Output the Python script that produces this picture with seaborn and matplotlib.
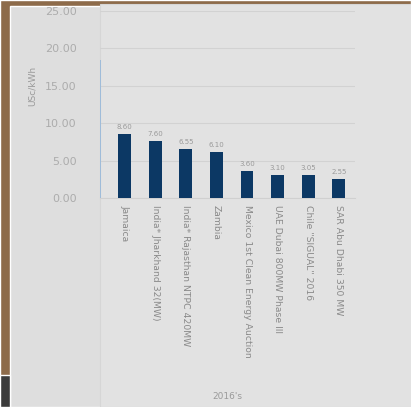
import numpy as np
import pandas as pd
import seaborn as sns
import matplotlib.pyplot as plt
from matplotlib.patches import Rectangle

sns.set_style("white")
plt.rcParams['font.family'] = ['DejaVu Sans']

# data (first bar is mostly hidden behind the panel edge)
projects = ["hidden", "Jamaica", "India* Jharkhand 32(MW)", "India* Rajasthan NTPC 420MW",
            "Zambia", "Mexico 1st Clean Energy Auction", "UAE Dubai 800MW Phase III",
            "Chile \"SIGUAL\" 2016", "SAR Abu Dhabi 350 MW"]
prices = [18.4, 8.6, 7.6, 6.55, 6.1, 3.6, 3.1, 3.05, 2.55]
bar_colors = ["#9fbcd9"] + ["#0c3864"] * 8
yticks = [0, 5, 10, 15, 20, 25]

df = pd.DataFrame({"project": projects, "price": prices})

fig = plt.figure(figsize=(4.11, 4.07), dpi=100)
fig.patch.set_facecolor("#dfdfdf")

# photo background around the screen
fig.patches.append(Rectangle((0, 0), 1, 1, transform=fig.transFigure,
                             facecolor="#8d6b4a", zorder=-10))
fig.patches.append(Rectangle((10/411, 0), 1, 1 - 6/407, transform=fig.transFigure,
                             facecolor="#dedede", zorder=-9))
fig.patches.append(Rectangle((0, 0), 10/411, 32/407, transform=fig.transFigure,
                             facecolor="#3b3b3b", zorder=-9))
fig.patches.append(Rectangle((100/411, 0), 1, 1 - 4/407, transform=fig.transFigure,
                             facecolor="#e2e2e2", edgecolor="#d6d6d6", lw=0.8, zorder=-8))

ax = fig.add_axes([100/411, 209/407, 255/411, 187/407])
ax.set_facecolor("none")

sns.barplot(data=df, x="project", y="price", hue="project", palette=bar_colors,
            legend=False, width=0.42, saturation=1, linewidth=0, ax=ax, zorder=3)

for i, c in enumerate(ax.containers):
    if i == 0:
        continue
    ax.bar_label(c, fmt="%.2f", fontsize=5, color="#9a9a9a", padding=3)

ax.set_xlim(0.19, 8.53)
ax.set_ylim(0, 25)
ax.set_yticks(yticks)
ax.set_yticklabels([f"{v:.2f}" for v in yticks], fontsize=8, color="#acacac")
ax.yaxis.grid(True, color="#d2d2d2", lw=0.8)
ax.tick_params(axis="y", length=0, pad=17)

ax.set_xticks(range(1, len(projects)))
ax.set_xticklabels(projects[1:], rotation=-90, fontsize=6.7, color="#8a8a8a",
                   va="top", ha="center")
ax.tick_params(axis="x", length=0, pad=5)

ax.set_ylabel("USc/kWh", fontsize=6.5, color="#9a9a9a")
ax.yaxis.set_label_coords(-0.25, 0.6)
ax.set_xlabel("2016's", fontsize=6.5, color="#9a9a9a")
ax.xaxis.set_label_coords(0.5, -1.04)

for s in ["top", "right", "left"]:
    ax.spines[s].set_visible(False)
ax.spines["bottom"].set_color("#d0d0d0")

plt.savefig("out.png", dpi=100)
